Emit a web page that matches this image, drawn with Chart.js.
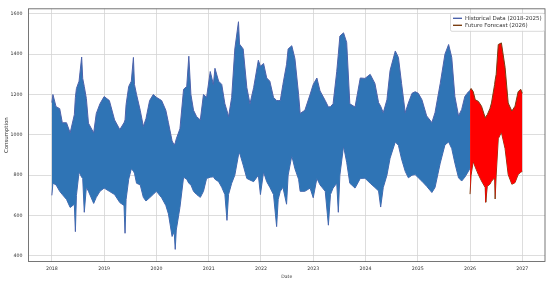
<!DOCTYPE html>
<html>
<head>
<meta charset="utf-8">
<script src="https://cdn.jsdelivr.net/npm/chart.js@4.4.1/dist/chart.umd.min.js"></script>
<style>
  body { margin: 0; background: #fff; }
  #wrap { width: 550px; height: 281px; }
</style>
</head>
<body>
<div id="wrap"><canvas id="consumptionChart" width="550" height="281"></canvas></div>
<script>
// decimal years, upper and lower edge of the daily series
const histDates = [
  2018.00, 2018.02, 2018.08, 2018.15, 2018.20, 2018.28, 2018.35, 2018.43, 2018.45, 2018.47,
  2018.52, 2018.57, 2018.59, 2018.62, 2018.66, 2018.70, 2018.80, 2018.85, 2018.92, 2019.00,
  2019.10, 2019.20, 2019.30, 2019.38, 2019.40, 2019.42, 2019.47, 2019.52, 2019.56, 2019.58,
  2019.62, 2019.69, 2019.75, 2019.80, 2019.87, 2019.94, 2020.00, 2020.10, 2020.18, 2020.23,
  2020.30, 2020.34, 2020.36, 2020.38, 2020.45, 2020.52, 2020.58, 2020.62, 2020.66, 2020.71,
  2020.77, 2020.84, 2020.90, 2020.96, 2021.03, 2021.09, 2021.12, 2021.19, 2021.25, 2021.31,
  2021.35, 2021.38, 2021.44, 2021.50, 2021.57, 2021.59, 2021.66, 2021.73, 2021.79, 2021.86,
  2021.95, 2021.99, 2022.05, 2022.11, 2022.17, 2022.24, 2022.30, 2022.33, 2022.37, 2022.42,
  2022.49, 2022.52, 2022.59, 2022.65, 2022.72, 2022.75, 2022.84, 2022.94, 2023.00, 2023.07,
  2023.13, 2023.23, 2023.29, 2023.33, 2023.38, 2023.45, 2023.48, 2023.51, 2023.58, 2023.64,
  2023.70, 2023.80, 2023.90, 2023.99, 2024.09, 2024.18, 2024.25, 2024.29, 2024.34, 2024.41,
  2024.47, 2024.57, 2024.63, 2024.69, 2024.76, 2024.82, 2024.89, 2024.95, 2025.01, 2025.08,
  2025.17, 2025.27, 2025.33, 2025.43, 2025.52, 2025.59, 2025.65, 2025.71, 2025.78, 2025.84,
  2025.90, 2025.97, 2026.00
];
const histHigh = [
  1160, 1200, 1140, 1130, 1060, 1060, 1010, 1100, 1186, 1230,
  1266, 1386, 1280, 1240, 1180, 1058, 1010, 1106, 1154, 1190,
  1170, 1074, 1026, 1060, 1074, 1150, 1240, 1266, 1384, 1250,
  1200, 1122, 1042, 1080, 1170, 1200, 1186, 1170, 1122, 1060,
  970, 950, 960, 980, 1030, 1226, 1240, 1390, 1200, 1122,
  1090, 1074, 1200, 1186, 1314, 1250, 1330, 1266, 1250, 1154,
  1120, 1090, 1186, 1426, 1561, 1450, 1426, 1234, 1154, 1234,
  1370, 1340, 1354, 1282, 1266, 1186, 1170, 1170, 1170, 1250,
  1350, 1426, 1442, 1378, 1200, 1106, 1122, 1200, 1250, 1282,
  1218, 1170, 1138, 1140, 1154, 1314, 1400, 1490, 1506, 1458,
  1154, 1138, 1282, 1280, 1300, 1255, 1160, 1142, 1110, 1174,
  1319, 1416, 1384, 1255, 1110, 1158, 1206, 1214, 1206, 1174,
  1094, 1061, 1110, 1255, 1400, 1448, 1384, 1190, 1094, 1126,
  1190, 1214, 1220
];
const histLow = [
  700, 760, 752, 720, 704, 680, 640, 656, 520, 700,
  816, 790, 784, 616, 740, 720, 660, 690, 720, 736,
  720, 704, 664, 650, 512, 680, 780, 832, 820, 810,
  760, 752, 690, 672, 688, 705, 720, 688, 650, 608,
  496, 520, 432, 528, 640, 790, 780, 760, 752, 720,
  704, 690, 720, 784, 790, 792, 780, 768, 740, 704,
  576, 704, 760, 800, 900, 912, 850, 784, 776, 768,
  800, 704, 816, 768, 740, 704, 545, 680, 720, 740,
  656, 800, 896, 832, 780, 720, 720, 736, 688, 784,
  752, 720, 552, 704, 736, 760, 616, 800, 944, 864,
  760, 736, 784, 785, 760, 739, 722, 642, 739, 800,
  884, 965, 948, 880, 819, 787, 800, 803, 787, 770,
  745, 714, 739, 860, 950, 965, 932, 860, 787, 771,
  790, 820, 835
];

const fcDates = [
  2026.00, 2026.02, 2026.06, 2026.10, 2026.16, 2026.22, 2026.29, 2026.30, 2026.33, 2026.38,
  2026.41, 2026.47, 2026.48, 2026.50, 2026.54, 2026.60, 2026.67, 2026.73, 2026.80, 2026.86,
  2026.92, 2026.97, 2027.00
];
const fcHigh = [
  1222, 1230, 1215, 1174, 1166, 1142, 1085, 1090, 1100, 1130,
  1158, 1250, 1271, 1300, 1448, 1456, 1335, 1158, 1118, 1142,
  1214, 1226, 1206
];
const fcLow = [
  706, 800, 868, 840, 803, 771, 739, 666, 745, 755,
  770, 787, 682, 800, 981, 1013, 932, 803, 755, 763,
  803, 815, 819
];

const yearTicks = [2018, 2019, 2020, 2021, 2022, 2023, 2024, 2025, 2026, 2027];
const valueTicks = [400, 600, 800, 1000, 1200, 1400, 1600];

const histColor = '#4c62ab';
const histFill = '#2f74b5';
const fcColor = '#7a3e12';
const fcFill = '#ff0000';

function toPoints(xs, ys) {
  return xs.map((x, i) => ({ x: x, y: ys[i] }));
}

// frame around the plot like matplotlib spines
const frame = {
  id: 'frame',
  afterDatasetsDraw(chart) {
    const { ctx, chartArea: a } = chart;
    ctx.save();
    ctx.strokeStyle = '#555';
    ctx.lineWidth = 0.8;
    ctx.strokeRect(a.left, a.top, a.right - a.left, a.bottom - a.top);
    ctx.restore();
  }
};

// legend sits inside the plot, top right
const legendBox = {
  id: 'legendBox',
  afterDraw(chart) {
    const { ctx, chartArea: a } = chart;
    const items = [
      { text: 'Historical Data (2018-2025)', color: histColor },
      { text: 'Future Forecast (2026)', color: fcColor }
    ];
    const w = 94, h = 18;
    const x = a.right - w - 1, y = a.top + 4;
    ctx.save();
    ctx.fillStyle = 'rgba(255,255,255,0.85)';
    ctx.strokeStyle = '#d0d0d0';
    ctx.lineWidth = 0.8;
    ctx.beginPath();
    ctx.roundRect(x + 0.5, y + 0.5, w, h, 1.5);
    ctx.fill();
    ctx.stroke();
    ctx.font = '5.5px "DejaVu Sans"';
    ctx.textBaseline = 'middle';
    items.forEach((it, i) => {
      const ly = y + 5.5 + i * 7;
      ctx.strokeStyle = it.color;
      ctx.lineWidth = 1.4;
      ctx.beginPath();
      ctx.moveTo(x + 3, ly);
      ctx.lineTo(x + 12, ly);
      ctx.stroke();
      ctx.fillStyle = '#333';
      ctx.fillText(it.text, x + 15, ly);
    });
    ctx.restore();
  }
};

new Chart(document.getElementById('consumptionChart'), {
  type: 'line',
  data: {
    datasets: [
      {
        label: 'Historical Data (2018-2025)',
        data: toPoints(histDates, histHigh),
        borderColor: histColor,
        backgroundColor: histFill,
        borderWidth: 1,
        fill: '+1'
      },
      {
        label: 'hist-low',
        data: toPoints(histDates, histLow),
        borderColor: histColor,
        borderWidth: 1,
        fill: false
      },
      {
        label: 'Future Forecast (2026)',
        data: toPoints(fcDates, fcHigh),
        borderColor: fcColor,
        backgroundColor: fcFill,
        borderWidth: 1,
        fill: '+1'
      },
      {
        label: 'fc-low',
        data: toPoints(fcDates, fcLow),
        borderColor: fcColor,
        borderWidth: 1,
        fill: false
      }
    ]
  },
  options: {
    responsive: false,
    animation: false,
    layout: { padding: { top: 2, right: 5, left: 0, bottom: 0 } },
    elements: {
      point: { radius: 0 },
      line: { tension: 0 }
    },
    plugins: {
      legend: { display: false },
      tooltip: { enabled: false }
    },
    scales: {
      x: {
        type: 'linear',
        min: 2017.553,
        max: 2027.434,
        afterFit: s => { s.height = 19.5; },
        afterBuildTicks: s => { s.ticks = yearTicks.map(v => ({ value: v })); },
        ticks: {
          padding: 4,
          color: '#333',
          font: { family: 'DejaVu Sans', size: 4.7 },
          maxRotation: 0,
          callback: v => String(v)
        },
        grid: { color: '#d4d4d4', lineWidth: 0.8, drawTicks: false },
        border: { display: false },
        title: {
          display: true,
          text: 'Date',
          color: '#333',
          font: { family: 'DejaVu Sans', size: 4.6 },
          padding: { top: 0, bottom: 1.5 }
        }
      },
      y: {
        min: 372,
        max: 1625,
        afterFit: s => { s.width = 28.5; },
        afterBuildTicks: s => { s.ticks = valueTicks.map(v => ({ value: v })); },
        ticks: {
          padding: 6,
          color: '#333',
          font: { family: 'DejaVu Sans', size: 4.7 },
          callback: v => String(v)
        },
        grid: { color: '#d4d4d4', lineWidth: 0.8, drawTicks: false },
        border: { display: false },
        title: {
          display: true,
          text: 'Consumption',
          color: '#333',
          font: { family: 'DejaVu Sans', size: 5.4 },
          padding: { top: 3, bottom: 0 }
        }
      }
    }
  },
  plugins: [frame, legendBox]
});
</script>
</body>
</html>
